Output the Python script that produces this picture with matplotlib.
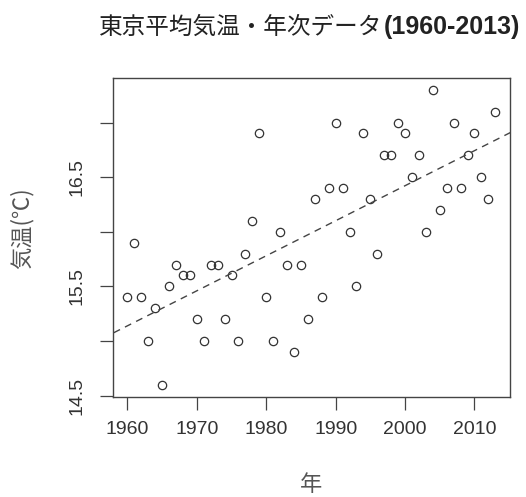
import numpy as np
import matplotlib
matplotlib.use("Agg")
import matplotlib.pyplot as plt

# 東京の年平均気温 (1960-2013)
years = np.arange(1960, 2014)
temps = [15.4, 15.9, 15.4, 15.0, 15.3, 14.6, 15.5, 15.7, 15.6, 15.6,
         15.2, 15.0, 15.7, 15.7, 15.2, 15.6, 15.0, 15.8, 16.1, 16.9,
         15.4, 15.0, 16.0, 15.7, 14.9, 15.7, 15.2, 16.3, 15.4, 16.4,
         17.0, 16.4, 16.0, 15.5, 16.9, 16.3, 15.8, 16.7, 16.7, 17.0,
         16.9, 16.5, 16.7, 16.0, 17.3, 16.2, 16.4, 17.0, 16.4, 16.7,
         16.9, 16.5, 16.3, 17.1]
xticks = [1960, 1970, 1980, 1990, 2000, 2010]
yticks = [14.5, 15.0, 15.5, 16.0, 16.5, 17.0]
ytick_labels = ["14.5", "", "15.5", "", "16.5", ""]

W, H = 526, 497
fig = plt.figure(figsize=(W / 100, H / 100), dpi=100)
ax = fig.add_axes([112.7 / W, 1 - 396.5 / H, (510 - 112.7) / W, (396.5 - 78) / H])

ink = "#333333"
ax.plot(years, temps, "o", mfc="none", mec=ink, mew=0.9, ms=6)

# 回帰直線
slope, icpt = np.polyfit(years, temps, 1)
xs = np.array([1950, 2020])
ax.plot(xs, icpt + slope * xs, color="#444444", lw=1.0, ls=(0, (5, 4)))

# R風の軸範囲 (4%拡張)
dx = (years.max() - years.min()) * 0.04
dy = (max(temps) - min(temps)) * 0.04
ax.set_xlim(years.min() - dx, years.max() + dx)
ax.set_ylim(min(temps) - dy, max(temps) + dy)

ax.set_xticks(xticks)
ax.set_xticklabels([str(v) for v in xticks], family="Liberation Sans",
                   fontsize=14, color=ink)
ax.set_yticks(yticks)
ax.set_yticklabels(ytick_labels, family="Liberation Sans", fontsize=14,
                   color=ink, rotation=90, va="center")
ax.tick_params(axis="x", length=9.5, width=0.9, color="#444444", pad=8.5)
ax.tick_params(axis="y", length=9.5, width=0.9, color="#444444", pad=10)
for s in ax.spines.values():
    s.set_color("#444444")
    s.set_linewidth(1.0)

# タイトル
fig.text(382.5 / W, 1 - 34 / H, "東京平均気温・年次データ", ha="right",
         va="baseline", fontsize=17, family="Noto Sans CJK JP", color="#222222")
fig.text(383.5 / W, 1 - 34 / H, "(1960-2013)", ha="left", va="baseline",
         fontsize=18, weight="bold", family="Liberation Sans", color="#222222")

fig.text(311 / W, 0.002, "年", ha="center", va="bottom", fontsize=16,
         family="Noto Sans CJK JP", color="#555555")
fig.text(22 / W, 1 - 228 / H, "気温(℃)", ha="center", va="center", rotation=90,
         fontsize=16, family=["Noto Sans CJK JP", "DejaVu Sans"], color="#555555")

fig.savefig("out.png", dpi=100, facecolor="white")
